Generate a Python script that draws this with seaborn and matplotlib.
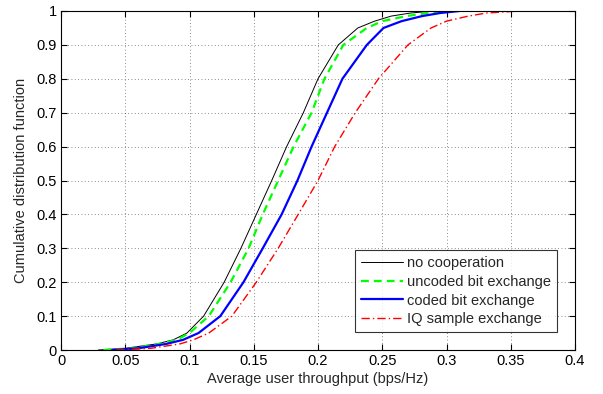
import numpy as np
import pandas as pd
import matplotlib
matplotlib.use("Agg")
import matplotlib.pyplot as plt
import seaborn as sns
from matplotlib.ticker import FormatStrFormatter

cdf = [0, 0.005, 0.018, 0.03, 0.05, 0.1, 0.2, 0.3, 0.4, 0.5, 0.6, 0.7, 0.8,
       0.9, 0.95, 0.97, 0.985, 0.994, 1.0]
no_coop = [0.029, 0.05, 0.0745, 0.0874, 0.098, 0.111, 0.127, 0.140, 0.152, 0.164,
           0.1756, 0.1886, 0.200, 0.2158, 0.231, 0.244, 0.257, 0.272, 0.29]
uncoded = [0.033, 0.055, 0.077, 0.090, 0.100, 0.115, 0.132, 0.146, 0.157, 0.169,
           0.181, 0.195, 0.205, 0.2197, 0.238, 0.250, 0.269, 0.285, 0.30]
coded = [0.040, 0.060, 0.082, 0.095, 0.107, 0.124, 0.142, 0.157, 0.1717, 0.184,
         0.195, 0.207, 0.219, 0.238, 0.251, 0.265, 0.281, 0.295, 0.31]
iq = [0.043, 0.070, 0.0926, 0.103, 0.115, 0.133, 0.152, 0.169, 0.1846, 0.200,
      0.213, 0.229, 0.247, 0.270, 0.288, 0.300, 0.317, 0.331, 0.357]

labels = ["no cooperation", "uncoded bit exchange", "coded bit exchange", "IQ sample exchange"]
series = [no_coop, uncoded, coded, iq]

sns.set_style("white")
plt.rcParams["font.family"] = ["Liberation Sans", "DejaVu Sans"]
FS = 10.5

fig = plt.figure(figsize=(6.03, 3.94), dpi=100)
ax = fig.add_axes([61 / 603, 1 - 350 / 394, 514 / 603, 339 / 394])

styles = [
    dict(color="black", lw=0.7, linestyle="-"),
    dict(color=(0, 1, 0), lw=1.6, linestyle=(0, (3.5, 2.3))),
    dict(color=(0, 0, 1), lw=1.6, linestyle="-"),
    dict(color=(1, 0, 0), lw=1.0, linestyle=(0, (6, 2.2, 1, 2.2))),
]

for lab, xs, st in zip(labels, series, styles):
    df = pd.DataFrame({"x": xs, "y": cdf})
    sns.lineplot(data=df, x="x", y="y", ax=ax, sort=False, estimator=None,
                 label=lab, **st)

ax.set_xlim(0, 0.4)
ax.set_ylim(0, 1)
ax.set_xticks(np.arange(0, 0.401, 0.05))
ax.set_yticks(np.arange(0, 1.01, 0.1))
ax.xaxis.set_major_formatter(FormatStrFormatter("%g"))
ax.yaxis.set_major_formatter(FormatStrFormatter("%g"))
ax.tick_params(direction="in", length=4, labelsize=FS, colors="black",
               top=True, right=True, bottom=True, left=True, pad=3)
ax.grid(True, linestyle=(0, (1, 3)), color="black", lw=0.6, alpha=0.6)
for sp in ax.spines.values():
    sp.set_color("black")
    sp.set_linewidth(0.8)

ax.set_xlabel("Average user throughput (bps/Hz)", fontsize=FS, labelpad=3)
ax.set_ylabel("Cumulative distribution function", fontsize=FS, labelpad=6)

leg = ax.legend(loc="lower right", bbox_to_anchor=(0.965, 0.053), borderaxespad=0,
                fontsize=FS, frameon=True, fancybox=False, edgecolor="black",
                handlelength=2.9, borderpad=0.4, labelspacing=0.32,
                handletextpad=0.3)
leg.get_frame().set_linewidth(0.8)

fig.savefig("out.png", dpi=100)
